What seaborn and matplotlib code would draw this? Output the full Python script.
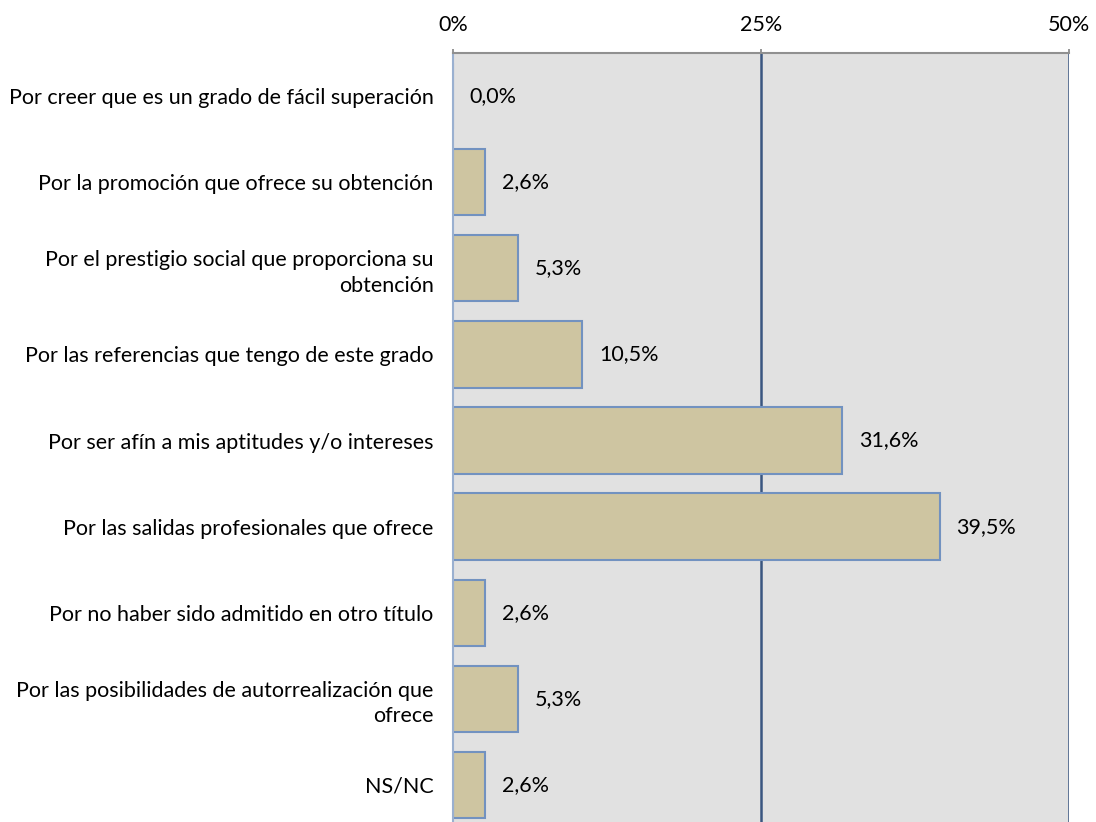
import matplotlib
matplotlib.use("Agg")
import matplotlib.pyplot as plt
import seaborn as sns
import pandas as pd
from matplotlib.ticker import FixedLocator

categories = [
    "Por creer que es un grado de fácil superación",
    "Por la promoción que ofrece su obtención",
    "Por el prestigio social que proporciona su\nobtención",
    "Por las referencias que tengo de este grado",
    "Por ser afín a mis aptitudes y/o intereses",
    "Por las salidas profesionales que ofrece",
    "Por no haber sido admitido en otro título",
    "Por las posibilidades de autorrealización que\nofrece",
    "NS/NC",
]
values = [0.0, 2.6, 5.3, 10.5, 31.6, 39.5, 2.6, 5.3, 2.6]
xticks = [0, 25, 50]
xtick_labels = ["0%", "25%", "50%"]

sns.set_theme(style="white")
plt.rcParams['font.family'] = ['Lato', 'DejaVu Sans']
FS = 15.5

df = pd.DataFrame({"cat": categories, "val": values})

fig = plt.figure(figsize=(10.96, 8.22), dpi=100)
ax = fig.add_axes([453/1096, 1 - 828/822, (1069-453)/1096, (828-53)/822])
ax.set_facecolor("#E1E1E1")

sns.barplot(data=df, y="cat", x="val", orient="h", color="#CEC5A1",
            edgecolor="#7292C0", linewidth=1.5, width=0.77, saturation=1, ax=ax)

ax.set_xlim(0, 50)
ax.set_ylim(len(categories) - 0.5, -0.5)
ax.xaxis.tick_top()
ax.set_xticks(xticks)
ax.set_xticklabels(xtick_labels, fontsize=FS, color="black")
ax.tick_params(axis="x", length=3, color="#888888", pad=10, direction="out")
for xv in xticks[1:]:
    ax.axvline(xv, color="#3A5680", linewidth=1.8, zorder=0.5)

ax.set_yticks(range(len(categories)))
ax.set_yticklabels(categories, fontsize=FS, ha="right", linespacing=1.35, color="black")
ax.tick_params(axis="y", length=0, pad=14)
ax.yaxis.set_minor_locator(FixedLocator([i + 0.5 for i in range(-1, len(categories))]))
ax.tick_params(axis="y", which="minor", length=5, color="#888888", width=1)
ax.set_xlabel("")
ax.set_ylabel("")

for s in ["right", "bottom"]:
    ax.spines[s].set_visible(False)
ax.spines["top"].set_color("#909090")
ax.spines["top"].set_linewidth(1.5)
ax.spines["left"].set_color("#9AB0D0")
ax.spines["left"].set_linewidth(1.5)

for i, v in enumerate(values):
    ax.annotate(f"{v:.1f}".replace(".", ",") + "%", xy=(v, i),
                xytext=(12 if v > 0 else 11.5, 0), textcoords="offset points",
                va="center", ha="left", fontsize=FS, color="black")

fig.savefig("out.png", dpi=100)
